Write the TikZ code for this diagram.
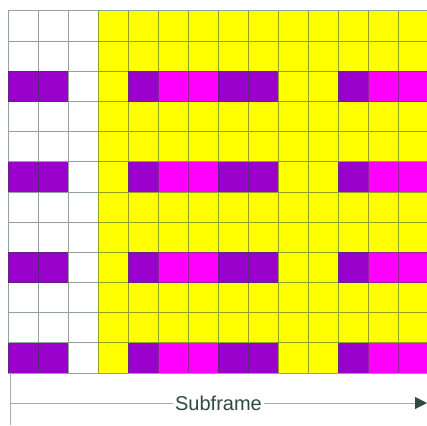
\documentclass[tikz,border=0pt]{standalone}
\usepackage{fontspec}
\setmainfont{Liberation Sans}
\usetikzlibrary{arrows.meta}

\definecolor{cellyellow}{RGB}{255,255,0}
\definecolor{cellmagenta}{RGB}{255,0,255}
\definecolor{cellpurple}{RGB}{153,0,204}
\definecolor{gridline}{RGB}{40,70,60}
\definecolor{axisline}{RGB}{160,178,170}
\definecolor{axistext}{RGB}{45,75,65}

\tikzset{
  cellgrid/.style={draw=gridline, draw opacity=0.5, line width=1pt},
  axisrule/.style={draw=axisline, line width=1pt},
  axislabel/.style={fill=white, text=axistext, inner sep=2pt,
    font=\fontsize{20}{24}\selectfont},
}

\begin{document}
\begin{tikzpicture}[x=1pt,y=-1pt]
  \useasboundingbox (0,0) rectangle (427,425);
  \begin{scope}
    \clip (0,0) rectangle (427,425);
    % data region
    \fill[cellyellow] (98,11) rectangle (428,373);
    % control rows
    \foreach \r in {2,5,8,11} {
      \pgfmathsetmacro\ya{11+\r*30.167}
      \pgfmathsetmacro\yb{\ya+30.167}
      \fill[cellpurple] (8,\ya) rectangle (68,\yb);
      \fill[cellpurple] (128,\ya) rectangle (158,\yb);
      \fill[cellmagenta] (158,\ya) rectangle (218,\yb);
      \fill[cellpurple] (218,\ya) rectangle (278,\yb);
      \fill[cellpurple] (338,\ya) rectangle (368,\yb);
      \fill[cellmagenta] (368,\ya) rectangle (428,\yb);
    }
    % grid lines
    \draw[cellgrid]
      \foreach \c in {0,...,14} {(8+\c*30,11) -- (8+\c*30,373)}
      \foreach \r in {0,...,12} {(8,11+\r*30.167) -- (428,11+\r*30.167)};
  \end{scope}

  % subframe axis
  \coordinate (axisbase) at (10,373);
  \coordinate (axisfoot) at (10,425);
  \coordinate (axisstart) at (10,403);
  \coordinate (axisend) at (427,403);
  \draw[axisrule] (axisbase) -- (axisfoot);
  \draw[axisrule, -{Triangle[length=12pt,width=12pt,color=axistext]}]
    (axisstart) -- (axisend) node[midway, axislabel] (sublabel) {Subframe};
\end{tikzpicture}
\end{document}
